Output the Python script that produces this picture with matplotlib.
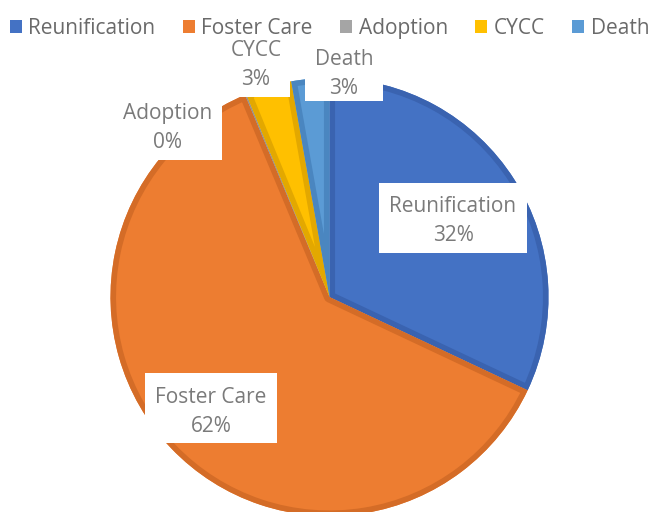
import matplotlib
matplotlib.use("Agg")
import matplotlib.pyplot as plt
from matplotlib.patches import Rectangle, Patch, Wedge

plt.rcParams['font.family'] = ['Open Sans', 'DejaVu Sans']

categories = ["Reunification", "Foster Care", "Adoption", "CYCC", "Death"]
shares = [32.0, 61.7, 0.1, 3.4, 2.8]
colors = ["#4472C4", "#ED7D31", "#A5A5A5", "#FFC000", "#5B9BD5"]
edge_colors = ["#3A63B0", "#D46C27", "#939393", "#E3A800", "#4A86C0"]

# label box centres and sizes, in pixels from top-left, plus text shift
label_boxes = [
    (453, 218, 148, 70, 3),
    (211, 408, 132, 70, 4),
    (168, 128, 108, 64, 0),
    (256, 66, 68, 62, -1),
    (344, 70, 78, 62, 4),
]

W, H = 659, 512
fig = plt.figure(figsize=(W / 100, H / 100), dpi=100)
ax = fig.add_axes([0, 0, 1, 1])

cx, cy, r = 329.5, H - 297, 219
wedges, _ = ax.pie(shares, colors=colors, startangle=90, counterclock=False,
                   center=(cx, cy), radius=r, frame=True,
                   wedgeprops=dict(linewidth=0))
ax.set_xlim(0, W)
ax.set_ylim(0, H)
ax.set_aspect('equal')
ax.axis('off')

# darker inner rim on each slice
for w, ec in zip(wedges, edge_colors):
    rim = Wedge(w.center, w.r, w.theta1, w.theta2, fill=False,
                edgecolor=ec, linewidth=8, joinstyle='round')
    ax.add_patch(rim)
    rim.set_clip_path(w.get_path(), ax.transData)

for (bx, by, bw, bh, dy), name, v in zip(label_boxes, categories, shares):
    ax.add_patch(Rectangle((bx - bw / 2, H - by - bh / 2), bw, bh,
                           facecolor="white", edgecolor="none", zorder=5))
    ax.text(bx, H - by - dy, f"{name}\n{v:.0f}%", ha="center", va="center",
            fontsize=15, color="#7a7a7a", linespacing=1.5, zorder=6)

handles = [Patch(facecolor=c, edgecolor="none") for c in colors]
fig.legend(handles, categories, loc="upper center", bbox_to_anchor=(0.5, 0.99),
           ncol=5, frameon=False, fontsize=15, handlelength=0.6,
           handleheight=0.6, handletextpad=0.3, columnspacing=1.3,
           labelcolor="#6a6a6a", borderaxespad=0.2)

fig.savefig("out.png", dpi=100)
